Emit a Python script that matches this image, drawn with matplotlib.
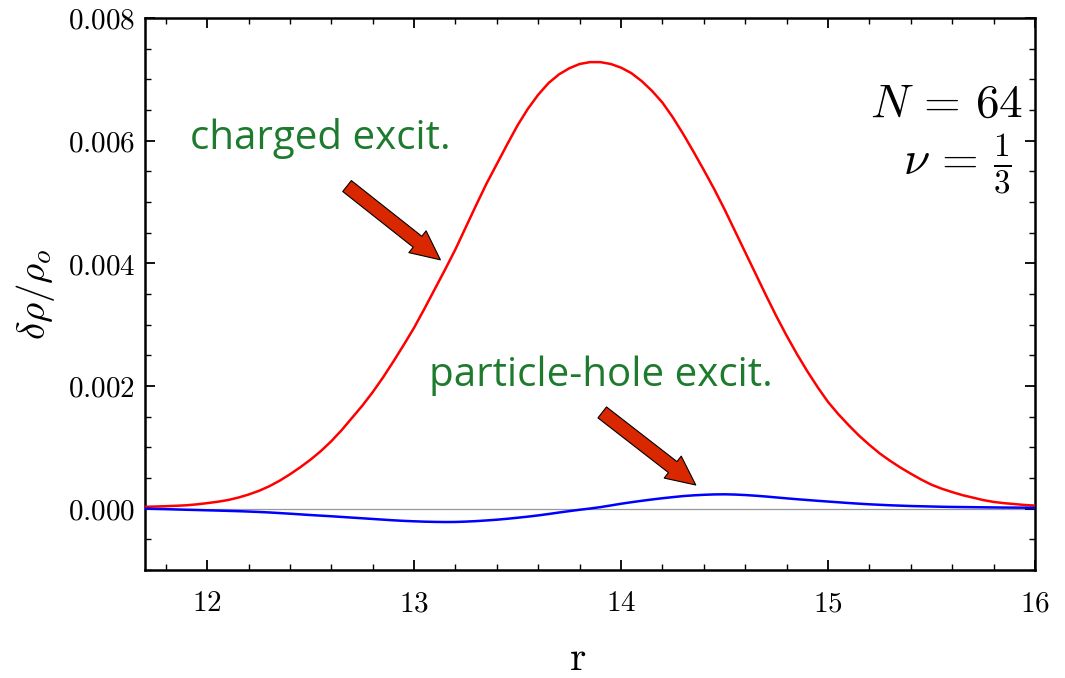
import matplotlib
matplotlib.use("Agg")
import matplotlib.pyplot as plt
from matplotlib.ticker import MultipleLocator, FuncFormatter
from matplotlib.patches import FancyArrowPatch

# radial grid (magnetic lengths)
r = [11.70, 11.75, 11.80, 11.85, 11.90, 11.95, 12.00, 12.05, 12.10, 12.15,
     12.20, 12.25, 12.30, 12.35, 12.40, 12.45, 12.50, 12.55, 12.60, 12.65,
     12.70, 12.75, 12.80, 12.85, 12.90, 12.95, 13.00, 13.05, 13.10, 13.15,
     13.20, 13.25, 13.30, 13.35, 13.40, 13.45, 13.50, 13.55, 13.60, 13.65,
     13.70, 13.75, 13.80, 13.85, 13.90, 13.95, 14.00, 14.05, 14.10, 14.15,
     14.20, 14.25, 14.30, 14.35, 14.40, 14.45, 14.50, 14.55, 14.60, 14.65,
     14.70, 14.75, 14.80, 14.85, 14.90, 14.95, 15.00, 15.05, 15.10, 15.15,
     15.20, 15.25, 15.30, 15.35, 15.40, 15.45, 15.50, 15.55, 15.60, 15.65,
     15.70, 15.75, 15.80, 15.85, 15.90, 15.95, 16.00]

# density change for the charged excitation (units of 1e-3)
charged = [0.030, 0.035, 0.040, 0.047, 0.055, 0.070, 0.090, 0.112, 0.140, 0.180,
           0.230, 0.290, 0.365, 0.455, 0.560, 0.675, 0.800, 0.940, 1.100, 1.280,
           1.480, 1.680, 1.900, 2.140, 2.400, 2.670, 2.950, 3.260, 3.580, 3.900,
           4.230, 4.590, 4.950, 5.300, 5.620, 5.940, 6.250, 6.520, 6.750, 6.940,
           7.080, 7.180, 7.250, 7.280, 7.280, 7.250, 7.190, 7.100, 6.970, 6.810,
           6.620, 6.380, 6.110, 5.820, 5.520, 5.210, 4.880, 4.530, 4.180, 3.830,
           3.480, 3.140, 2.820, 2.520, 2.240, 1.980, 1.740, 1.540, 1.360, 1.190,
           1.040, 0.900, 0.780, 0.670, 0.570, 0.475, 0.390, 0.325, 0.270, 0.220,
           0.180, 0.140, 0.110, 0.090, 0.075, 0.060, 0.050]

# density change for the particle-hole excitation (units of 1e-3)
particle_hole = [0.000, -0.004, -0.008, -0.013, -0.018, -0.022, -0.027, -0.031, -0.036, -0.041,
                 -0.047, -0.054, -0.062, -0.072, -0.082, -0.093, -0.104, -0.114, -0.124, -0.135,
                 -0.146, -0.157, -0.168, -0.179, -0.190, -0.199, -0.206, -0.212, -0.216, -0.218,
                 -0.217, -0.211, -0.203, -0.192, -0.180, -0.165, -0.148, -0.130, -0.110, -0.087,
                 -0.063, -0.040, -0.018, 0.002, 0.025, 0.052, 0.080, 0.105, 0.128, 0.150,
                 0.170, 0.188, 0.205, 0.217, 0.226, 0.232, 0.234, 0.230, 0.222, 0.211,
                 0.198, 0.183, 0.168, 0.154, 0.141, 0.128, 0.116, 0.104, 0.092, 0.081,
                 0.071, 0.063, 0.055, 0.049, 0.043, 0.039, 0.035, 0.031, 0.028, 0.026,
                 0.024, 0.022, 0.020, 0.018, 0.017, 0.016, 0.015]

x_ticks = [12, 13, 14, 15, 16]
y_ticks = [0.000, 0.002, 0.004, 0.006, 0.008]

plt.rcParams["mathtext.fontset"] = "cm"

fig = plt.figure(figsize=(10.65, 6.78), dpi=100)
ax = fig.add_axes([0.1362, 0.1593, 0.8356, 0.8142])

scale = 1e-3
ax.axhline(0, color="#999999", lw=0.9, zorder=1)
ax.plot(r, [v * scale for v in charged], color="#ff0000", lw=1.8, zorder=3)
ax.plot(r, [v * scale for v in particle_hole], color="#0000ff", lw=1.8, zorder=3)

ax.set_xlim(11.7, 16.0)
ax.set_ylim(-0.001, 0.008)

ax.set_xticks(x_ticks)
ax.set_yticks(y_ticks)
ax.xaxis.set_minor_locator(MultipleLocator(0.2))
ax.yaxis.set_minor_locator(MultipleLocator(0.0005))
ax.xaxis.set_major_formatter(FuncFormatter(lambda v, p: f"${v:.0f}$"))
ax.yaxis.set_major_formatter(FuncFormatter(lambda v, p: f"${v:.3f}$"))

ax.tick_params(axis="both", which="both", direction="in", top=True, right=True,
               color="black")
ax.tick_params(axis="both", which="major", length=7, width=1.3, labelsize=21)
ax.tick_params(axis="both", which="minor", length=4, width=1.0)
ax.tick_params(axis="x", which="major", pad=14)
ax.tick_params(axis="y", which="major", pad=7)

for s in ax.spines.values():
    s.set_linewidth(1.8)

ax.set_xlabel(r"$\mathrm{r}$", fontsize=30, labelpad=14)
ax.xaxis.label.set_x(0.4865)
ax.set_ylabel(r"$\delta\rho/\rho_o$", fontsize=28, labelpad=8)

green = "#1e7b2e"
ax.text(11.918, 0.00587, "charged excit.", color=green, fontsize=29,
        family="Open Sans", va="baseline", ha="left")
ax.text(13.071, 0.0020, "particle-hole excit.", color=green, fontsize=29,
        family="Open Sans", va="baseline", ha="left")

ax.text(0.9865, 0.821, r"$N\,=\,64$", transform=ax.transAxes, fontsize=34,
        ha="right", va="baseline")
ax.text(0.974, 0.716, r"$\nu\,=\,\frac{1}{3}$", transform=ax.transAxes, fontsize=34,
        ha="right", va="baseline")

arrow_style = "simple,head_length=1.05,head_width=1.0,tail_width=0.5"
for tail, tip in [((12.676, 0.00526), (13.127, 0.004057)),
                  ((13.909, 0.001569), (14.361, 0.000386))]:
    ax.add_patch(FancyArrowPatch(tail, tip, arrowstyle=arrow_style, mutation_scale=20,
                                 shrinkA=0, shrinkB=0, facecolor="#d92800",
                                 edgecolor="black", lw=0.8, zorder=4))

fig.savefig("out.png", dpi=100)
